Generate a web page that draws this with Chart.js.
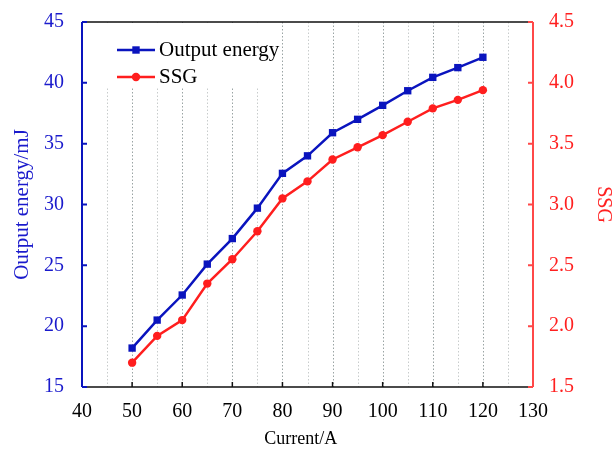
<!DOCTYPE html>
<html>
<head>
<meta charset="utf-8">
<script src="https://cdn.jsdelivr.net/npm/chart.js@4.4.1/dist/chart.umd.min.js"></script>
<style>
  html, body { margin: 0; padding: 0; background: #fff; }
  canvas { display: block; }
</style>
</head>
<body>
<canvas id="energyChart" width="615" height="449"></canvas>
<script>
const currents = [50, 55, 60, 65, 70, 75, 80, 85, 90, 95, 100, 105, 110, 115, 120];
const outputEnergy = [18.2, 20.5, 22.56, 25.1, 27.2, 29.7, 32.56, 34.0, 35.9, 37.0, 38.15, 39.35, 40.45, 41.25, 42.1];
const ssg = [1.70, 1.92, 2.05, 2.35, 2.55, 2.78, 3.05, 3.19, 3.37, 3.47, 3.57, 3.68, 3.79, 3.86, 3.94];

const BLUE = '#0a14be';
const RED = '#ff1e1e';
const SERIF = '"Liberation Serif", "Times New Roman", serif';

// gridlines, frame, inward ticks and the boxed legend
const framePlugin = {
  id: 'frame',
  beforeDatasetsDraw(chart) {
    const { ctx, chartArea: a, scales } = chart;
    ctx.save();
    ctx.lineWidth = 1;
    ctx.setLineDash([1.5, 2]);
    for (let v = 45; v < 130; v += 5) {
      const x = Math.round(scales.x.getPixelForValue(v)) + 0.5;
      ctx.strokeStyle = v % 10 === 0 ? '#9aa4a4' : '#c8cccc';
      ctx.beginPath();
      ctx.moveTo(x, a.top);
      ctx.lineTo(x, a.bottom);
      ctx.stroke();
    }
    ctx.setLineDash([]);
    ctx.fillStyle = '#fff';
    ctx.fillRect(a.left + 1, a.top + 1, 183, 65);
    ctx.restore();
  },
  afterDatasetsDraw(chart) {
    const { ctx, chartArea: a } = chart;
    ctx.save();
    chart.data.datasets.forEach((ds, i) => {
      const y = a.top + 28 + i * 27;
      const x0 = a.left + 35, x1 = a.left + 73, xm = (x0 + x1) / 2;
      ctx.strokeStyle = ds.borderColor;
      ctx.lineWidth = ds.borderWidth;
      ctx.beginPath();
      ctx.moveTo(x0, y);
      ctx.lineTo(x1, y);
      ctx.stroke();
      ctx.fillStyle = ds.backgroundColor;
      if (ds.pointStyle === 'rect') {
        ctx.fillRect(xm - 3.7, y - 3.7, 7.4, 7.4);
      } else {
        ctx.beginPath();
        ctx.arc(xm, y, 4.2, 0, Math.PI * 2);
        ctx.fill();
      }
      ctx.fillStyle = '#000';
      ctx.font = '21px ' + SERIF;
      ctx.textBaseline = 'middle';
      ctx.fillText(ds.label, x1 + 4, y);
    });
    ctx.restore();
  },
  afterDraw(chart) {
    const { ctx, chartArea: a, scales } = chart;
    ctx.save();
    // top + bottom
    ctx.strokeStyle = '#111';
    ctx.lineWidth = 1.5;
    ctx.beginPath();
    ctx.moveTo(a.left, a.top); ctx.lineTo(a.right, a.top);
    ctx.moveTo(a.left, a.bottom); ctx.lineTo(a.right, a.bottom);
    ctx.stroke();
    for (let v = 50; v < 130; v += 10) {
      const x = scales.x.getPixelForValue(v);
      ctx.beginPath();
      ctx.moveTo(x, a.bottom); ctx.lineTo(x, a.bottom - 5);
      ctx.stroke();
    }
    // left axis
    ctx.strokeStyle = BLUE;
    ctx.lineWidth = 2;
    ctx.beginPath();
    ctx.moveTo(a.left, a.top); ctx.lineTo(a.left, a.bottom);
    scales.y.ticks.forEach(t => {
      const y = scales.y.getPixelForValue(t.value);
      ctx.moveTo(a.left, y); ctx.lineTo(a.left + 5, y);
    });
    ctx.stroke();
    // right axis
    ctx.strokeStyle = '#ff4848';
    ctx.beginPath();
    ctx.moveTo(a.right, a.top); ctx.lineTo(a.right, a.bottom);
    scales.y1.ticks.forEach(t => {
      const y = scales.y1.getPixelForValue(t.value);
      ctx.moveTo(a.right, y); ctx.lineTo(a.right - 5, y);
    });
    ctx.stroke();
    ctx.restore();
  }
};

new Chart(document.getElementById('energyChart'), {
  type: 'line',
  data: {
    datasets: [
      {
        label: 'Output energy',
        data: currents.map((c, i) => ({ x: c, y: outputEnergy[i] })),
        yAxisID: 'y',
        borderColor: BLUE, backgroundColor: BLUE,
        borderWidth: 2.5, pointStyle: 'rect', pointRadius: 5.2,
        pointBorderWidth: 0, tension: 0
      },
      {
        label: 'SSG',
        data: currents.map((c, i) => ({ x: c, y: ssg[i] })),
        yAxisID: 'y1',
        borderColor: RED, backgroundColor: RED,
        borderWidth: 2.5, pointStyle: 'circle', pointRadius: 4.2,
        pointBorderWidth: 0, tension: 0
      }
    ]
  },
  options: {
    responsive: false,
    animation: false,
    devicePixelRatio: 1,
    layout: { padding: { top: 22, left: 0, right: 0, bottom: 0 } },
    plugins: { legend: { display: false }, tooltip: { enabled: false } },
    scales: {
      x: {
        type: 'linear', min: 40, max: 130,
        grid: { display: false, drawTicks: false }, border: { display: false },
        ticks: { stepSize: 10, color: '#000', padding: 13, font: { family: SERIF, size: 20 } },
        // trailing spaces nudge the centred title a little left, as in the original
        title: { display: true, text: 'Current/A\u00a0\u00a0\u00a0', color: '#000', padding: { top: 0, bottom: -1 }, font: { family: SERIF, size: 18 } },
        afterFit(s) { s.height = 62; }
      },
      y: {
        position: 'left', min: 15, max: 45,
        grid: { display: false, drawTicks: true, tickLength: 16 }, border: { display: false },
        ticks: { stepSize: 5, color: '#1a1acc', padding: 2, font: { family: SERIF, size: 20 } },
        title: { display: true, text: 'Output energy/mJ', color: '#1a1acc', padding: { top: 10, bottom: 0 }, font: { family: SERIF, size: 21 } },
        afterFit(s) { s.width = 82; }
      },
      y1: {
        position: 'right', min: 1.5, max: 4.5,
        grid: { display: false, drawTicks: true, tickLength: 14 }, border: { display: false },
        ticks: { stepSize: 0.5, color: '#ff2020', padding: 2, font: { family: SERIF, size: 20 },
                 callback: v => v.toFixed(1) },
        title: { display: true, text: 'SSG', color: '#ff2020', padding: { top: 0, bottom: 0 }, font: { family: SERIF, size: 20 } },
        afterFit(s) { s.width = 82; }
      }
    }
  },
  plugins: [framePlugin]
});
</script>
</body>
</html>
